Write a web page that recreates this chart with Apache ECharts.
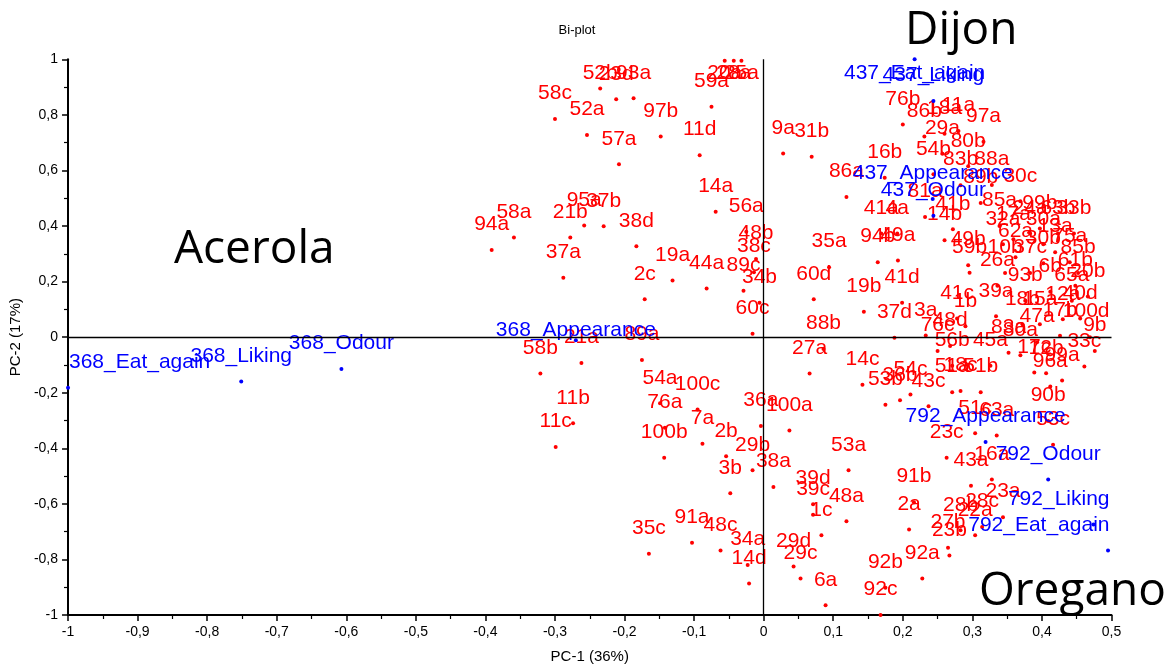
<!DOCTYPE html>
<html><head><meta charset="utf-8">
<script src="https://cdn.jsdelivr.net/npm/echarts@6/dist/echarts.min.js"></script>
<style>html,body{margin:0;padding:0;background:#fff}#c{width:1170px;height:669px}</style>
</head><body><div id="c"></div>
<script>
// Samples (PC-1, PC-2) grouped by region: [label, x, y]
const samplesUpperLeft = [
 ['58c',-0.300,0.785],['52a',-0.254,0.728],['52b',-0.235,0.895],['23d',-0.212,0.856],['93a',-0.187,0.860],
 ['97b',-0.148,0.722],['57a',-0.208,0.622],['11d',-0.092,0.655],['59a',-0.075,0.829],['20a',-0.056,0.995],
 ['28a',-0.043,0.995],['25a',-0.032,0.995],['14a',-0.069,0.451],['56a',-0.025,0.379],['95a',-0.258,0.402],
 ['37b',-0.230,0.399],['21b',-0.278,0.359],['38d',-0.183,0.327],['58a',-0.359,0.359],['94a',-0.391,0.314],
 ['48b',-0.011,0.281],['38c',-0.014,0.234],['37a',-0.288,0.214],['19a',-0.131,0.204],['2c',-0.171,0.136],
 ['44a',-0.082,0.175],['89c',-0.029,0.167],['34b',-0.006,0.124],['60c',-0.016,0.012]
];
const samplesLowerLeft = [
 ['21a',-0.262,-0.093],['89a',-0.175,-0.082],['58b',-0.321,-0.131],['54a',-0.149,-0.238],['76a',-0.142,-0.326],
 ['100c',-0.095,-0.260],['11b',-0.274,-0.310],['11c',-0.299,-0.395],['7a',-0.088,-0.384],['100b',-0.143,-0.434],
 ['2b',-0.054,-0.429],['36a',-0.004,-0.320],['29b',-0.016,-0.479],['3b',-0.048,-0.562],['35c',-0.165,-0.780],
 ['91a',-0.103,-0.740],['48c',-0.062,-0.768],['34a',-0.023,-0.820],['14d',-0.021,-0.887]
];
const samplesLowerRight = [
 ['38a',0.014,-0.539],['100a',0.037,-0.336],['53a',0.122,-0.479],['39d',0.071,-0.601],['39c',0.071,-0.639],
 ['48a',0.119,-0.663],['1c',0.083,-0.713],['29d',0.043,-0.825],['29c',0.053,-0.869],['6a',0.089,-0.965],
 ['91b',0.216,-0.594],['2a',0.209,-0.692],['92b',0.175,-0.902],['92a',0.228,-0.869],['92c',0.168,-1.0],
 ['23c',0.263,-0.434],['43a',0.298,-0.535],['28b',0.283,-0.695],['27b',0.265,-0.758],['23b',0.267,-0.786],
 ['16a',0.328,-0.512],['23a',0.344,-0.648],['22a',0.304,-0.713],['28c',0.314,-0.683],
 ['88b',0.086,-0.043],['27a',0.066,-0.131],['14c',0.142,-0.171],['53b',0.175,-0.243],['36b',0.196,-0.227],
 ['54c',0.211,-0.206],['43c',0.237,-0.249],['51a',0.271,-0.198],['18c',0.283,-0.194],['51b',0.312,-0.198],
 ['51c',0.304,-0.346],['63a',0.335,-0.354],['53c',0.416,-0.387],['90b',0.409,-0.302],['37d',0.188,-0.002]
];
const samplesUpperRight = [
 ['9a',0.028,0.661],['31b',0.069,0.649],['76b',0.200,0.765],['86b',0.231,0.722],['18a',0.260,0.732],
 ['29a',0.257,0.660],['54b',0.244,0.586],['80b',0.294,0.615],['11a',0.280,0.742],['97a',0.316,0.703],
 ['16b',0.174,0.574],['86a',0.119,0.504],['81a',0.232,0.432],['41a',0.169,0.373],['4a',0.192,0.373],
 ['41b',0.272,0.388],['14b',0.260,0.349],['94b',0.164,0.270],['49a',0.193,0.276],['35a',0.094,0.252],
 ['49b',0.294,0.259],['60d',0.072,0.136],['19b',0.144,0.091],['41d',0.199,0.124],['3a',0.233,0.006]
];
const samplesCluster = [
 ['99a',0.429,-0.156],['96a',0.412,-0.178],['45a',0.326,-0.103],['83a',0.352,-0.056],['80a',0.369,-0.065],
 ['33c',0.461,-0.106],['17c',0.389,-0.127],['12b',0.406,-0.130],['100d',0.469,0.0],['47a',0.393,-0.018],
 ['17b',0.426,0.005],['12a',0.430,0.064],['18b',0.372,0.046],['15a',0.397,0.046],['39a',0.334,0.075],
 ['93b',0.376,0.131],['65a',0.443,0.131],['26a',0.336,0.185],['61b',0.448,0.185],['59b',0.296,0.232],
 ['10b',0.347,0.231],['37c',0.383,0.231],['85b',0.452,0.231],['75a',0.440,0.270],['30b',0.402,0.266],
 ['32a',0.344,0.334],['30a',0.402,0.334],['17a',0.359,0.352],['24a',0.383,0.373],['63b',0.423,0.373],
 ['85a',0.339,0.400],['99b',0.397,0.391],['30c',0.369,0.489],['89b',0.312,0.483],['88a',0.328,0.548],
 ['83b',0.283,0.547],['41c',0.278,0.067],['1b',0.290,0.039],['48d',0.268,-0.032],['76c',0.250,-0.050],
 ['56b',0.271,-0.103],['13a',0.419,0.306],['20b',0.466,0.146],['6b',0.412,0.163],['40d',0.455,0.067],
 ['9b',0.476,-0.050],['33b',0.446,0.373],['62a',0.362,0.288]
];
// Attributes (loadings)
const attrNames = ['368_Eat_again','368_Liking','368_Odour','368_Appearance',
  '437_Eat_again','437_Liking','437_Appearance','437_Odour',
  '792_Appearance','792_Odour','792_Liking','792_Eat_again'];
const attrX = [-1.0,-0.751,-0.607,-0.270, 0.217,0.244,0.243,0.244, 0.319,0.409,0.474,0.495];
const attrY = [-0.182,-0.160,-0.115,-0.011, 1.0,0.850,0.497,0.437, -0.377,-0.512,-0.674,-0.768];

const xMin=-1, xMax=0.5, xStep=0.1, yMin=-1, yMax=1, yStep=0.2;

const GL=66, GR=58.5, GT=59.3, GB=47;
const chart = echarts.init(document.getElementById('c'), null, {renderer:'canvas'});
const allSamples = [].concat(samplesUpperLeft, samplesLowerLeft, samplesLowerRight, samplesUpperRight, samplesCluster);
const sampleData = allSamples.map(s => ({name:s[0], value:[s[1], s[2]]}));
const attrData = attrNames.map((n,i) => {
  const d = {name:n, value:[attrX[i], attrY[i]]};
  if (n === '368_Appearance') d.label = {distance:-2};
  return d;
});
const fmt = v => String(Math.round(v*100)/100).replace('.', ',');
const font = "'Liberation Sans', Arial, sans-serif";
function clampLabel(p){
  const r = p.labelRect; let dx=0, dy=0;
  const L=GL+3, R=1170-GR-2, T=GT+3;
  if (r.x < L) dx = L - r.x;
  if (r.x + r.width > R) dx = R - (r.x + r.width);
  if (r.y < T) dy = T - r.y;
  return {dx:dx, dy:dy};
}
const axisCommon = {
  type:'value',
  axisLine:{show:true, onZero:false, lineStyle:{color:'#000', width:2}},
  axisTick:{show:true, length:6, lineStyle:{color:'#000', width:1.5}},
  minorTick:{show:true, splitNumber:2, length:4, lineStyle:{color:'#000', width:1.2}},
  splitLine:{show:false}, minorSplitLine:{show:false},
  axisLabel:{formatter:fmt, color:'#000', fontSize:14, fontFamily:font, margin:10},
  nameLocation:'middle',
  nameTextStyle:{color:'#000', fontSize:15, fontFamily:font}
};
chart.setOption({
  animation:false,
  backgroundColor:'#fff',
  grid:{left:GL, right:GR, top:GT, bottom:GB, containLabel:false},
  xAxis: Object.assign({}, axisCommon, {min:xMin, max:xMax, interval:xStep, name:'PC-1 (36%)', nameGap:34}),
  yAxis: Object.assign({}, axisCommon, {min:yMin, max:yMax, interval:yStep, name:'PC-2 (17%)', nameGap:37}),
  graphic:[
    {type:'text', x:577, y:30, style:{text:'Bi-plot', fill:'#000', fontSize:13, fontFamily:font, align:'center', verticalAlign:'middle'}},
    {type:'text', x:174, y:250, style:{text:'Acerola', fill:'#000', fontSize:46, fontFamily:"'Open Sans', sans-serif", align:'left', verticalAlign:'middle'}},
    {type:'text', x:905, y:31, style:{text:'Dijon', fill:'#000', fontSize:46, fontFamily:"'Open Sans', sans-serif", align:'left', verticalAlign:'middle'}},
    {type:'text', x:979, y:592, style:{text:'Oregano', fill:'#000', fontSize:46, fontFamily:"'Open Sans', sans-serif", align:'left', verticalAlign:'middle'}}
  ],
  series:[
    {type:'scatter', name:'samples', data:sampleData, symbolSize:4,
     itemStyle:{color:'#ff0000', opacity:1},
     label:{show:true, position:'top', distance:13, formatter:'{b}', color:'#ff0000', opacity:1, fontSize:21, fontFamily:font},
     labelLayout: clampLabel,
     markLine:{silent:true, symbol:'none', label:{show:false}, animation:false,
       lineStyle:{color:'#000', width:1.3, type:'solid', opacity:1},
       data:[{xAxis:0},{yAxis:0}]}
    },
    {type:'scatter', name:'attributes', data:attrData, symbolSize:4, z:3,
     itemStyle:{color:'#0000ff', opacity:1},
     label:{show:true, position:'top', distance:13, formatter:'{b}', color:'#0000ff', opacity:1, fontSize:21, fontFamily:font},
     labelLayout: clampLabel
    }
  ]
});
</script></body></html>
